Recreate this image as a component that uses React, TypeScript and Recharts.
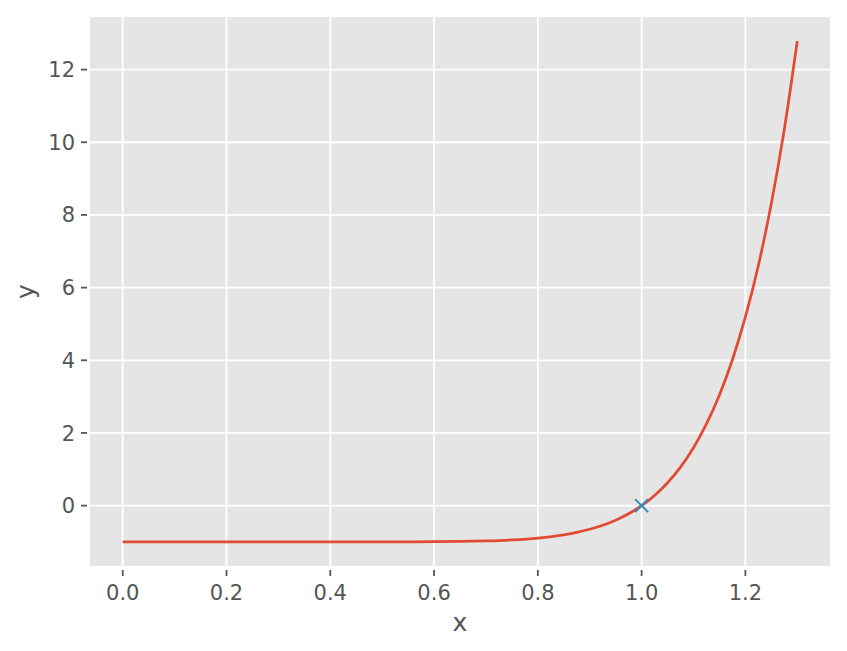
import {
  ComposedChart,
  Line,
  Scatter,
  XAxis,
  YAxis,
  CartesianGrid,
} from 'recharts';

// curve (y vs x)
const xValues = [
  0, 0.1, 0.2, 0.3, 0.4, 0.5, 0.55, 0.6, 0.65, 0.7, 0.75, 0.8, 0.85, 0.875, 0.9,
  0.925, 0.95, 0.975, 1.0, 1.025, 1.05, 1.075, 1.1, 1.125, 1.15, 1.175, 1.2,
  1.225, 1.25, 1.275, 1.3,
];
const yValues = [
  -1, -1, -1, -1, -1, -0.999, -0.997, -0.994, -0.987, -0.972, -0.944, -0.893,
  -0.803, -0.737, -0.651, -0.541, -0.401, -0.224, 0, 0.28, 0.629, 1.061, 1.594,
  2.247, 3.046, 4.016, 5.192, 6.61, 8.313, 10.354, 12.786,
];
const rootX = [1.0];
const rootY = [0];

const xTicks = [0, 0.2, 0.4, 0.6, 0.8, 1.0, 1.2];
const yTicks = [0, 2, 4, 6, 8, 10, 12];

const curve = xValues.map((x, i) => ({ x, y: yValues[i] }));
const root = rootX.map((x, i) => ({ x, y: rootY[i] }));

const TEXT = '#555555';
const FONT = "'DejaVu Sans', sans-serif";

function XTick({ x, y, payload }: any) {
  return (
    <g>
      <line x1={x} x2={x} y1={y + 3} y2={y + 9} stroke={TEXT} strokeWidth={1.8} />
      <text x={x} y={y + 33} textAnchor="middle" fill={TEXT} fontSize={21} fontFamily={FONT}>
        {Number(payload.value).toFixed(1)}
      </text>
    </g>
  );
}

function YTick({ x, y, payload }: any) {
  return (
    <g>
      <line x1={x - 8} x2={x - 2} y1={y} y2={y} stroke={TEXT} strokeWidth={1.8} />
      <text x={x - 14} y={y} dy="0.36em" textAnchor="end" fill={TEXT} fontSize={21} fontFamily={FONT}>
        {payload.value}
      </text>
    </g>
  );
}

function XMark({ cx, cy }: any) {
  const s = 6.5;
  return (
    <g stroke="#348ABD" strokeWidth={2}>
      <line x1={cx - s} y1={cy - s} x2={cx + s} y2={cy + s} />
      <line x1={cx - s} y1={cy + s} x2={cx + s} y2={cy - s} />
    </g>
  );
}

export default function App() {
  return (
    <div style={{ position: 'absolute', left: 0, top: 0, width: 847, height: 651, background: '#fff' }}>
      <ComposedChart
        width={847}
        height={651}
        data={curve}
        margin={{ top: 16, right: 16, left: 0, bottom: 0 }}
      >
        <CartesianGrid fill="#E5E5E5" stroke="#ffffff" strokeWidth={1.8} />
        <XAxis
          dataKey="x"
          type="number"
          domain={[-0.065, 1.365]}
          ticks={xTicks}
          allowDataOverflow
          axisLine={false}
          tickLine={false}
          tickSize={0}
          tickMargin={0}
          height={84}
          tick={<XTick />}
          interval={0}
          label={({ viewBox }: any) => (
            <text
              x={viewBox.x + viewBox.width / 2}
              y={viewBox.y + 64}
              textAnchor="middle"
              fill={TEXT}
              fontSize={25}
              fontFamily={FONT}
            >
              x
            </text>
          )}
        />
        <YAxis
          type="number"
          domain={[-1.689, 13.475]}
          ticks={yTicks}
          allowDataOverflow
          axisLine={false}
          tickLine={false}
          tickSize={0}
          tickMargin={0}
          width={89}
          tick={<YTick />}
          interval={0}
          label={({ viewBox }: any) => {
            const cy = viewBox.y + viewBox.height / 2;
            return (
              <text
                x={34}
                y={cy}
                transform={`rotate(-90 34 ${cy})`}
                textAnchor="middle"
                fill={TEXT}
                fontSize={25}
                fontFamily={FONT}
              >
                y
              </text>
            );
          }}
        />
        <Line
          dataKey="y"
          type="monotone"
          stroke="#E24A33"
          strokeWidth={2.75}
          dot={false}
          activeDot={false}
          isAnimationActive={false}
        />
        <Scatter data={root} dataKey="y" shape={<XMark />} isAnimationActive={false} />
      </ComposedChart>
    </div>
  );
}
